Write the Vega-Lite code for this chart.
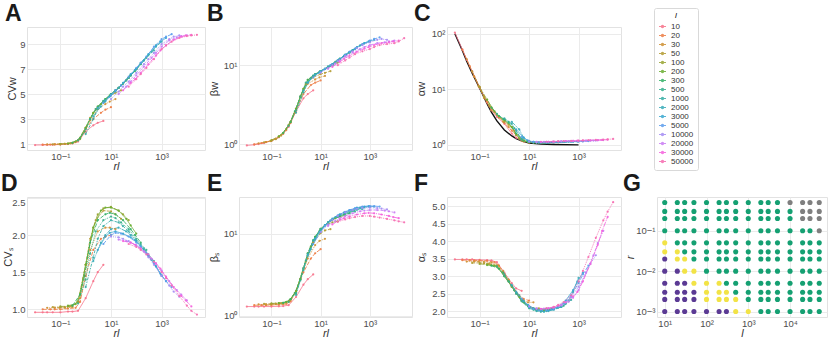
{
"$schema":"https://vega.github.io/schema/vega-lite/v6.json",
"padding":{"left":0,"top":2,"right":0,"bottom":0},
"config":{
 "font":"Liberation Sans",
 "view":{"stroke":"#e2e2e2","strokeWidth":1},
 "axis":{"domain":false,"ticks":false,"grid":true,"gridColor":"#ebebeb","gridWidth":1,"labelColor":"#4d4d4d","labelFontSize":9.5,"labelPadding":2,"titleColor":"#333333","titleFontSize":11,"titleFontWeight":"normal","titlePadding":2},
 "axisX":{"titleFontStyle":"italic","titleFontSize":11,"titlePadding":0,"labelPadding":1},
 "title":{"fontSize":23,"fontWeight":"bold","anchor":"start","frame":"bounds","offset":1,"color":"#1a1a1a","dx":-1},
 "range":{"category":["#f77189","#ed7d45","#ce9032","#b39b31","#97a431","#6aad31","#32b166","#34af8c","#36ada4","#37abb8","#39a7d0","#5c9ded","#a48cf4","#c97cf4","#f561dd","#f66bb0"]}
},
"datasets":{
"curves":[
{"l":10,"rl":0.01,"cvw":0.92,"bw":0.96,"aw":105,"cvs":0.96,"bs":1.3,"as":3.48},
{"l":10,"rl":0.02,"cvw":0.93,"bw":0.98,"aw":52,"cvs":0.96,"bs":1.3,"as":3.48},
{"l":10,"rl":0.03,"cvw":0.93,"bw":1.0,"aw":34,"cvs":0.96,"bs":1.3,"as":3.48},
{"l":10,"rl":0.05,"cvw":0.94,"bw":1.03,"aw":21,"cvs":0.96,"bs":1.3,"as":3.48},
{"l":10,"rl":0.1,"cvw":0.96,"bw":1.1,"aw":10.8,"cvs":0.96,"bs":1.3,"as":3.47},
{"l":10,"rl":0.2,"cvw":1.0,"bw":1.22,"aw":5.8,"cvs":0.97,"bs":1.31,"as":3.46},
{"l":10,"rl":0.3,"cvw":1.05,"bw":1.35,"aw":4.2,"cvs":0.97,"bs":1.32,"as":3.45},
{"l":10,"rl":0.5,"cvw":1.2,"bw":1.65,"aw":3.2,"cvs":0.98,"bs":1.35,"as":3.4},
{"l":10,"rl":1,"cvw":2.0,"bw":2.6,"aw":2.4,"cvs":1.15,"bs":1.7,"as":3.1},
{"l":10,"rl":2,"cvw":2.5,"bw":3.8,"aw":1.6,"cvs":1.38,"bs":2.4,"as":2.8},
{"l":10,"rl":3,"cvw":2.7,"bw":4.3,"aw":1.35,"cvs":1.5,"bs":2.8,"as":2.65},
{"l":10,"rl":5,"cvw":2.85,"bw":4.8,"aw":1.18,"cvs":1.6,"bs":3.2,"as":2.58},
{"l":20,"rl":0.02,"cvw":0.95,"bw":0.99,"aw":52,"cvs":1.0,"bs":1.35,"as":3.46},
{"l":20,"rl":0.04,"cvw":0.96,"bw":1.03,"aw":26,"cvs":1.0,"bs":1.35,"as":3.46},
{"l":20,"rl":0.06,"cvw":0.97,"bw":1.06,"aw":17,"cvs":1.0,"bs":1.35,"as":3.45},
{"l":20,"rl":0.1,"cvw":0.98,"bw":1.1,"aw":10.8,"cvs":1.0,"bs":1.36,"as":3.45},
{"l":20,"rl":0.2,"cvw":1.02,"bw":1.22,"aw":5.9,"cvs":1.01,"bs":1.37,"as":3.44},
{"l":20,"rl":0.4,"cvw":1.15,"bw":1.5,"aw":3.9,"cvs":1.02,"bs":1.4,"as":3.4},
{"l":20,"rl":0.6,"cvw":1.4,"bw":1.85,"aw":3.2,"cvs":1.1,"bs":1.5,"as":3.3},
{"l":20,"rl":1,"cvw":2.2,"bw":2.7,"aw":2.5,"cvs":1.45,"bs":2.0,"as":3.05},
{"l":20,"rl":2,"cvw":3.0,"bw":4.3,"aw":1.8,"cvs":1.8,"bs":3.4,"as":2.7},
{"l":20,"rl":4,"cvw":3.5,"bw":5.6,"aw":1.3,"cvs":1.95,"bs":5.0,"as":2.45},
{"l":20,"rl":6,"cvw":3.75,"bw":6.0,"aw":1.15,"cvs":1.98,"bs":5.8,"as":2.35},
{"l":20,"rl":10,"cvw":3.95,"bw":6.4,"aw":1.1,"cvs":2.0,"bs":6.5,"as":2.3},
{"l":30,"rl":0.03,"cvw":0.97,"bw":1.02,"aw":35,"cvs":1.02,"bs":1.38,"as":3.42},
{"l":30,"rl":0.06,"cvw":0.98,"bw":1.06,"aw":17,"cvs":1.02,"bs":1.38,"as":3.42},
{"l":30,"rl":0.09,"cvw":0.99,"bw":1.09,"aw":11.5,"cvs":1.02,"bs":1.38,"as":3.42},
{"l":30,"rl":0.15,"cvw":1.01,"bw":1.16,"aw":7,"cvs":1.02,"bs":1.39,"as":3.41},
{"l":30,"rl":0.3,"cvw":1.07,"bw":1.35,"aw":4.2,"cvs":1.03,"bs":1.4,"as":3.39},
{"l":30,"rl":0.6,"cvw":1.45,"bw":1.9,"aw":3.1,"cvs":1.15,"bs":1.55,"as":3.3},
{"l":30,"rl":0.9,"cvw":2.0,"bw":2.5,"aw":2.6,"cvs":1.45,"bs":1.9,"as":3.15},
{"l":30,"rl":1.5,"cvw":2.9,"bw":4.0,"aw":2.1,"cvs":1.8,"bs":2.8,"as":2.9},
{"l":30,"rl":3,"cvw":3.8,"bw":5.8,"aw":1.5,"cvs":2.05,"bs":5.0,"as":2.55},
{"l":30,"rl":6,"cvw":4.2,"bw":6.6,"aw":1.2,"cvs":2.1,"bs":7.3,"as":2.3},
{"l":30,"rl":9,"cvw":4.4,"bw":7.0,"aw":1.12,"cvs":2.1,"bs":8.2,"as":2.25},
{"l":30,"rl":15,"cvw":4.6,"bw":7.3,"aw":1.1,"cvs":2.08,"bs":8.7,"as":2.25},
{"l":50,"rl":0.05,"cvw":0.98,"bw":1.05,"aw":21,"cvs":1.03,"bs":1.4,"as":3.38},
{"l":50,"rl":0.1,"cvw":1.0,"bw":1.1,"aw":11,"cvs":1.03,"bs":1.4,"as":3.38},
{"l":50,"rl":0.15,"cvw":1.02,"bw":1.15,"aw":7.3,"cvs":1.03,"bs":1.41,"as":3.37},
{"l":50,"rl":0.25,"cvw":1.06,"bw":1.28,"aw":5.0,"cvs":1.04,"bs":1.42,"as":3.36},
{"l":50,"rl":0.5,"cvw":1.3,"bw":1.7,"aw":3.5,"cvs":1.1,"bs":1.5,"as":3.3},
{"l":50,"rl":1,"cvw":2.3,"bw":2.8,"aw":2.6,"cvs":1.6,"bs":2.0,"as":3.05},
{"l":50,"rl":1.5,"cvw":3.1,"bw":4.0,"aw":2.3,"cvs":1.95,"bs":2.8,"as":2.85},
{"l":50,"rl":2.5,"cvw":3.8,"bw":5.8,"aw":1.8,"cvs":2.2,"bs":4.6,"as":2.6},
{"l":50,"rl":5,"cvw":4.4,"bw":7.0,"aw":1.25,"cvs":2.33,"bs":7.8,"as":2.3},
{"l":50,"rl":10,"cvw":4.9,"bw":7.7,"aw":1.12,"cvs":2.32,"bs":10.2,"as":2.12},
{"l":50,"rl":15,"cvw":5.1,"bw":8.0,"aw":1.1,"cvs":2.28,"bs":11.0,"as":2.08},
{"l":50,"rl":25,"cvw":5.3,"bw":8.4,"aw":1.1,"cvs":2.22,"bs":11.4,"as":2.08},
{"l":100,"rl":0.1,"cvw":1.0,"bw":1.12,"aw":11,"cvs":1.04,"bs":1.42,"as":3.35},
{"l":100,"rl":0.2,"cvw":1.04,"bw":1.25,"aw":6.5,"cvs":1.04,"bs":1.43,"as":3.34},
{"l":100,"rl":0.3,"cvw":1.1,"bw":1.38,"aw":4.7,"cvs":1.05,"bs":1.44,"as":3.32},
{"l":100,"rl":0.5,"cvw":1.3,"bw":1.75,"aw":3.5,"cvs":1.1,"bs":1.5,"as":3.28},
{"l":100,"rl":1,"cvw":2.3,"bw":2.8,"aw":2.8,"cvs":1.6,"bs":2.0,"as":3.0},
{"l":100,"rl":2,"cvw":3.5,"bw":5.0,"aw":2.1,"cvs":2.1,"bs":3.8,"as":2.7},
{"l":100,"rl":3,"cvw":4.0,"bw":6.5,"aw":1.5,"cvs":2.28,"bs":5.8,"as":2.5},
{"l":100,"rl":5,"cvw":4.4,"bw":7.3,"aw":1.2,"cvs":2.36,"bs":8.3,"as":2.3},
{"l":100,"rl":10,"cvw":5.0,"bw":8.4,"aw":1.12,"cvs":2.38,"bs":11.3,"as":2.12},
{"l":100,"rl":20,"cvw":5.5,"bw":9.4,"aw":1.1,"cvs":2.33,"bs":13.2,"as":2.05},
{"l":100,"rl":30,"cvw":5.85,"bw":10.0,"aw":1.1,"cvs":2.28,"bs":13.8,"as":2.05},
{"l":100,"rl":50,"cvw":6.3,"bw":10.8,"aw":1.1,"cvs":2.2,"bs":14.2,"as":2.07},
{"l":200,"rl":0.2,"cvw":1.04,"bw":1.25,"aw":6.5,"cvs":1.05,"bs":1.43,"as":3.32},
{"l":200,"rl":0.4,"cvw":1.2,"bw":1.55,"aw":4.0,"cvs":1.07,"bs":1.47,"as":3.3},
{"l":200,"rl":0.6,"cvw":1.45,"bw":1.9,"aw":3.3,"cvs":1.2,"bs":1.6,"as":3.22},
{"l":200,"rl":1,"cvw":2.3,"bw":2.8,"aw":2.8,"cvs":1.6,"bs":2.0,"as":3.0},
{"l":200,"rl":2,"cvw":3.5,"bw":5.0,"aw":2.1,"cvs":2.1,"bs":3.8,"as":2.7},
{"l":200,"rl":4,"cvw":4.2,"bw":6.9,"aw":1.3,"cvs":2.33,"bs":7.0,"as":2.4},
{"l":200,"rl":6,"cvw":4.6,"bw":7.7,"aw":1.18,"cvs":2.37,"bs":9.2,"as":2.25},
{"l":200,"rl":10,"cvw":5.0,"bw":8.4,"aw":1.12,"cvs":2.37,"bs":11.5,"as":2.12},
{"l":200,"rl":20,"cvw":5.5,"bw":9.5,"aw":1.1,"cvs":2.33,"bs":13.8,"as":2.04},
{"l":200,"rl":40,"cvw":6.1,"bw":11.0,"aw":1.1,"cvs":2.22,"bs":15.5,"as":2.03},
{"l":200,"rl":60,"cvw":6.5,"bw":12.0,"aw":1.1,"cvs":2.13,"bs":16.2,"as":2.05},
{"l":200,"rl":100,"cvw":7.0,"bw":13.5,"aw":1.12,"cvs":2.02,"bs":16.8,"as":2.08},
{"l":300,"rl":0.3,"cvw":1.1,"bw":1.38,"aw":4.7,"cvs":1.05,"bs":1.44,"as":3.3},
{"l":300,"rl":0.6,"cvw":1.45,"bw":1.9,"aw":3.3,"cvs":1.2,"bs":1.6,"as":3.22},
{"l":300,"rl":0.9,"cvw":2.0,"bw":2.6,"aw":2.9,"cvs":1.45,"bs":1.9,"as":3.1},
{"l":300,"rl":1.5,"cvw":3.0,"bw":4.0,"aw":2.5,"cvs":1.9,"bs":2.8,"as":2.85},
{"l":300,"rl":3,"cvw":4.0,"bw":6.5,"aw":1.6,"cvs":2.2,"bs":5.8,"as":2.52},
{"l":300,"rl":6,"cvw":4.6,"bw":7.7,"aw":1.2,"cvs":2.28,"bs":9.2,"as":2.25},
{"l":300,"rl":9,"cvw":4.9,"bw":8.2,"aw":1.13,"cvs":2.3,"bs":10.8,"as":2.15},
{"l":300,"rl":15,"cvw":5.3,"bw":9.0,"aw":1.1,"cvs":2.28,"bs":12.7,"as":2.08},
{"l":300,"rl":30,"cvw":5.85,"bw":10.0,"aw":1.1,"cvs":2.2,"bs":14.8,"as":2.03},
{"l":300,"rl":60,"cvw":6.5,"bw":12.0,"aw":1.1,"cvs":2.08,"bs":16.5,"as":2.05},
{"l":300,"rl":90,"cvw":6.85,"bw":13.0,"aw":1.12,"cvs":2.0,"bs":17.2,"as":2.08},
{"l":300,"rl":150,"cvw":7.4,"bw":14.5,"aw":1.12,"cvs":1.9,"bs":17.8,"as":2.12},
{"l":500,"rl":0.5,"cvw":1.3,"bw":1.7,"aw":3.6,"cvs":1.08,"bs":1.48,"as":3.28},
{"l":500,"rl":1,"cvw":2.2,"bw":2.7,"aw":2.9,"cvs":1.4,"bs":1.9,"as":3.0},
{"l":500,"rl":1.5,"cvw":3.0,"bw":4.0,"aw":2.6,"cvs":1.75,"bs":2.7,"as":2.85},
{"l":500,"rl":2.5,"cvw":3.8,"bw":6.0,"aw":2.0,"cvs":2.05,"bs":4.7,"as":2.6},
{"l":500,"rl":5,"cvw":4.45,"bw":7.4,"aw":1.3,"cvs":2.2,"bs":8.3,"as":2.3},
{"l":500,"rl":10,"cvw":5.0,"bw":8.4,"aw":1.14,"cvs":2.25,"bs":11.5,"as":2.1},
{"l":500,"rl":15,"cvw":5.3,"bw":9.0,"aw":1.1,"cvs":2.23,"bs":12.8,"as":2.04},
{"l":500,"rl":25,"cvw":5.7,"bw":9.9,"aw":1.1,"cvs":2.17,"bs":14.5,"as":2.02},
{"l":500,"rl":50,"cvw":6.3,"bw":11.5,"aw":1.1,"cvs":2.08,"bs":16.2,"as":2.03},
{"l":500,"rl":100,"cvw":7.0,"bw":13.5,"aw":1.12,"cvs":1.95,"bs":17.5,"as":2.07},
{"l":500,"rl":150,"cvw":7.4,"bw":14.5,"aw":1.12,"cvs":1.88,"bs":18.2,"as":2.1},
{"l":500,"rl":250,"cvw":7.9,"bw":16.0,"aw":1.13,"cvs":1.8,"bs":18.8,"as":2.15},
{"l":1000,"rl":1,"cvw":1.8,"bw":2.5,"aw":3.0,"cvs":1.3,"bs":1.8,"as":3.05},
{"l":1000,"rl":2,"cvw":3.0,"bw":4.5,"aw":2.4,"cvs":1.7,"bs":3.6,"as":2.72},
{"l":1000,"rl":3,"cvw":3.8,"bw":6.0,"aw":1.8,"cvs":1.95,"bs":5.7,"as":2.5},
{"l":1000,"rl":5,"cvw":4.4,"bw":7.3,"aw":1.25,"cvs":2.12,"bs":8.3,"as":2.28},
{"l":1000,"rl":10,"cvw":5.0,"bw":8.4,"aw":1.13,"cvs":2.2,"bs":11.3,"as":2.08},
{"l":1000,"rl":20,"cvw":5.5,"bw":9.6,"aw":1.1,"cvs":2.17,"bs":13.8,"as":2.0},
{"l":1000,"rl":30,"cvw":5.85,"bw":10.3,"aw":1.1,"cvs":2.12,"bs":15.0,"as":1.98},
{"l":1000,"rl":50,"cvw":6.3,"bw":11.5,"aw":1.1,"cvs":2.05,"bs":16.2,"as":2.0},
{"l":1000,"rl":100,"cvw":7.0,"bw":13.5,"aw":1.12,"cvs":1.93,"bs":17.8,"as":2.05},
{"l":1000,"rl":200,"cvw":7.7,"bw":15.5,"aw":1.13,"cvs":1.82,"bs":19.0,"as":2.12},
{"l":1000,"rl":300,"cvw":8.1,"bw":16.8,"aw":1.13,"cvs":1.74,"bs":19.6,"as":2.2},
{"l":1000,"rl":500,"cvw":8.5,"bw":18.3,"aw":1.14,"cvs":1.65,"bs":20.0,"as":2.32},
{"l":2000,"rl":2,"cvw":3.2,"bw":4.8,"aw":2.6,"cvs":1.65,"bs":3.8,"as":2.75},
{"l":2000,"rl":4,"cvw":4.0,"bw":6.8,"aw":1.9,"cvs":1.9,"bs":6.5,"as":2.45},
{"l":2000,"rl":6,"cvw":4.4,"bw":7.6,"aw":1.35,"cvs":2.0,"bs":8.5,"as":2.3},
{"l":2000,"rl":10,"cvw":4.9,"bw":8.4,"aw":1.15,"cvs":2.08,"bs":11.0,"as":2.12},
{"l":2000,"rl":20,"cvw":5.5,"bw":9.6,"aw":1.1,"cvs":2.1,"bs":13.8,"as":2.02},
{"l":2000,"rl":40,"cvw":6.1,"bw":11.0,"aw":1.1,"cvs":2.05,"bs":16.0,"as":1.98},
{"l":2000,"rl":60,"cvw":6.5,"bw":12.0,"aw":1.1,"cvs":2.0,"bs":17.0,"as":2.0},
{"l":2000,"rl":100,"cvw":7.0,"bw":13.5,"aw":1.12,"cvs":1.92,"bs":18.2,"as":2.04},
{"l":2000,"rl":200,"cvw":7.7,"bw":15.5,"aw":1.13,"cvs":1.8,"bs":19.5,"as":2.12},
{"l":2000,"rl":400,"cvw":8.4,"bw":17.8,"aw":1.14,"cvs":1.67,"bs":20.5,"as":2.3},
{"l":2000,"rl":600,"cvw":8.8,"bw":19.0,"aw":1.14,"cvs":1.58,"bs":21.0,"as":2.55},
{"l":2000,"rl":1000,"cvw":9.2,"bw":20.0,"aw":1.15,"cvs":1.45,"bs":21.3,"as":2.95},
{"l":3000,"rl":3,"cvw":3.9,"bw":6.0,"aw":1.9,"cvs":1.8,"bs":5.5,"as":2.55},
{"l":3000,"rl":6,"cvw":4.5,"bw":7.6,"aw":1.35,"cvs":1.98,"bs":8.8,"as":2.28},
{"l":3000,"rl":9,"cvw":4.8,"bw":8.1,"aw":1.2,"cvs":2.03,"bs":10.5,"as":2.18},
{"l":3000,"rl":15,"cvw":5.2,"bw":9.0,"aw":1.13,"cvs":2.05,"bs":12.8,"as":2.08},
{"l":3000,"rl":30,"cvw":5.9,"bw":10.3,"aw":1.1,"cvs":2.02,"bs":15.3,"as":2.02},
{"l":3000,"rl":60,"cvw":6.6,"bw":12.0,"aw":1.1,"cvs":1.97,"bs":17.3,"as":2.02},
{"l":3000,"rl":90,"cvw":6.95,"bw":13.2,"aw":1.12,"cvs":1.93,"bs":18.3,"as":2.05},
{"l":3000,"rl":150,"cvw":7.5,"bw":14.8,"aw":1.13,"cvs":1.85,"bs":19.5,"as":2.12},
{"l":3000,"rl":300,"cvw":8.2,"bw":17.0,"aw":1.14,"cvs":1.72,"bs":20.8,"as":2.3},
{"l":3000,"rl":600,"cvw":8.9,"bw":19.0,"aw":1.15,"cvs":1.58,"bs":21.5,"as":2.6},
{"l":3000,"rl":900,"cvw":9.2,"bw":20.0,"aw":1.15,"cvs":1.48,"bs":21.7,"as":2.85},
{"l":3000,"rl":1500,"cvw":9.5,"bw":21.0,"aw":1.16,"cvs":1.38,"bs":21.5,"as":3.1},
{"l":5000,"rl":5,"cvw":4.3,"bw":7.0,"aw":1.4,"cvs":1.88,"bs":7.5,"as":2.35},
{"l":5000,"rl":10,"cvw":4.9,"bw":8.2,"aw":1.18,"cvs":2.0,"bs":10.5,"as":2.12},
{"l":5000,"rl":15,"cvw":5.3,"bw":9.0,"aw":1.13,"cvs":2.03,"bs":12.5,"as":2.06},
{"l":5000,"rl":25,"cvw":5.7,"bw":10.0,"aw":1.11,"cvs":2.02,"bs":14.5,"as":2.02},
{"l":5000,"rl":50,"cvw":6.4,"bw":11.5,"aw":1.1,"cvs":1.98,"bs":16.8,"as":2.02},
{"l":5000,"rl":100,"cvw":7.1,"bw":13.5,"aw":1.12,"cvs":1.9,"bs":18.5,"as":2.06},
{"l":5000,"rl":150,"cvw":7.5,"bw":14.8,"aw":1.13,"cvs":1.84,"bs":19.5,"as":2.12},
{"l":5000,"rl":250,"cvw":8.0,"bw":16.2,"aw":1.14,"cvs":1.76,"bs":20.5,"as":2.22},
{"l":5000,"rl":500,"cvw":8.8,"bw":18.5,"aw":1.15,"cvs":1.62,"bs":21.5,"as":2.45},
{"l":5000,"rl":1000,"cvw":9.4,"bw":20.5,"aw":1.16,"cvs":1.46,"bs":21.8,"as":2.8},
{"l":5000,"rl":1500,"cvw":9.6,"bw":21.5,"aw":1.16,"cvs":1.38,"bs":21.8,"as":3.05},
{"l":5000,"rl":2500,"cvw":9.8,"bw":22.5,"aw":1.17,"cvs":1.3,"bs":21.5,"as":3.3},
{"l":10000,"rl":10,"cvw":4.6,"bw":8.0,"aw":1.15,"cvs":1.98,"bs":10.5,"as":2.14},
{"l":10000,"rl":20,"cvw":5.2,"bw":9.2,"aw":1.12,"cvs":1.97,"bs":13.0,"as":2.06},
{"l":10000,"rl":30,"cvw":5.6,"bw":10.0,"aw":1.12,"cvs":1.95,"bs":14.8,"as":2.05},
{"l":10000,"rl":50,"cvw":6.0,"bw":11.2,"aw":1.13,"cvs":1.92,"bs":16.5,"as":2.06},
{"l":10000,"rl":100,"cvw":6.7,"bw":13.0,"aw":1.14,"cvs":1.86,"bs":18.2,"as":2.1},
{"l":10000,"rl":200,"cvw":7.4,"bw":15.0,"aw":1.15,"cvs":1.78,"bs":19.5,"as":2.17},
{"l":10000,"rl":300,"cvw":7.8,"bw":16.5,"aw":1.16,"cvs":1.7,"bs":20.2,"as":2.25},
{"l":10000,"rl":500,"cvw":8.3,"bw":18.0,"aw":1.16,"cvs":1.6,"bs":20.6,"as":2.4},
{"l":10000,"rl":1000,"cvw":9.0,"bw":19.5,"aw":1.17,"cvs":1.45,"bs":20.8,"as":2.7},
{"l":10000,"rl":2000,"cvw":9.4,"bw":21.0,"aw":1.18,"cvs":1.32,"bs":20.6,"as":3.1},
{"l":10000,"rl":3000,"cvw":9.6,"bw":21.5,"aw":1.19,"cvs":1.24,"bs":20.3,"as":3.35},
{"l":10000,"rl":5000,"cvw":9.7,"bw":21.0,"aw":1.2,"cvs":1.17,"bs":19.8,"as":3.6},
{"l":20000,"rl":20,"cvw":5.0,"bw":9.0,"aw":1.13,"cvs":1.94,"bs":12.5,"as":2.08},
{"l":20000,"rl":40,"cvw":5.6,"bw":10.5,"aw":1.13,"cvs":1.92,"bs":14.5,"as":2.07},
{"l":20000,"rl":60,"cvw":6.0,"bw":11.5,"aw":1.14,"cvs":1.9,"bs":15.5,"as":2.08},
{"l":20000,"rl":100,"cvw":6.5,"bw":12.8,"aw":1.15,"cvs":1.86,"bs":16.5,"as":2.1},
{"l":20000,"rl":200,"cvw":7.2,"bw":14.5,"aw":1.16,"cvs":1.78,"bs":17.8,"as":2.16},
{"l":20000,"rl":400,"cvw":7.9,"bw":16.0,"aw":1.17,"cvs":1.68,"bs":18.8,"as":2.27},
{"l":20000,"rl":600,"cvw":8.3,"bw":17.0,"aw":1.18,"cvs":1.62,"bs":19.2,"as":2.38},
{"l":20000,"rl":1000,"cvw":8.8,"bw":18.0,"aw":1.18,"cvs":1.52,"bs":19.5,"as":2.6},
{"l":20000,"rl":2000,"cvw":9.3,"bw":19.0,"aw":1.19,"cvs":1.38,"bs":19.5,"as":3.1},
{"l":20000,"rl":4000,"cvw":9.55,"bw":19.5,"aw":1.2,"cvs":1.26,"bs":19.2,"as":3.6},
{"l":20000,"rl":6000,"cvw":9.65,"bw":20.0,"aw":1.21,"cvs":1.2,"bs":18.8,"as":3.95},
{"l":20000,"rl":10000,"cvw":9.7,"bw":20.5,"aw":1.22,"cvs":1.12,"bs":18.2,"as":4.3},
{"l":30000,"rl":30,"cvw":5.3,"bw":9.5,"aw":1.13,"cvs":1.92,"bs":13.0,"as":2.06},
{"l":30000,"rl":60,"cvw":5.9,"bw":11.0,"aw":1.14,"cvs":1.9,"bs":14.8,"as":2.08},
{"l":30000,"rl":90,"cvw":6.2,"bw":12.0,"aw":1.15,"cvs":1.87,"bs":15.5,"as":2.1},
{"l":30000,"rl":150,"cvw":6.7,"bw":13.2,"aw":1.16,"cvs":1.82,"bs":16.3,"as":2.15},
{"l":30000,"rl":300,"cvw":7.4,"bw":14.8,"aw":1.17,"cvs":1.74,"bs":17.2,"as":2.25},
{"l":30000,"rl":600,"cvw":8.1,"bw":16.2,"aw":1.18,"cvs":1.62,"bs":17.8,"as":2.42},
{"l":30000,"rl":900,"cvw":8.5,"bw":17.0,"aw":1.19,"cvs":1.55,"bs":18.0,"as":2.55},
{"l":30000,"rl":1500,"cvw":8.9,"bw":18.0,"aw":1.2,"cvs":1.44,"bs":17.8,"as":2.85},
{"l":30000,"rl":3000,"cvw":9.35,"bw":19.0,"aw":1.21,"cvs":1.3,"bs":17.2,"as":3.35},
{"l":30000,"rl":6000,"cvw":9.6,"bw":19.5,"aw":1.22,"cvs":1.18,"bs":16.5,"as":3.9},
{"l":30000,"rl":9000,"cvw":9.7,"bw":20.0,"aw":1.23,"cvs":1.12,"bs":16.0,"as":4.3},
{"l":30000,"rl":15000,"cvw":9.75,"bw":20.5,"aw":1.24,"cvs":1.04,"bs":15.5,"as":4.7},
{"l":50000,"rl":50,"cvw":5.6,"bw":10.0,"aw":1.14,"cvs":1.88,"bs":14.0,"as":2.08},
{"l":50000,"rl":100,"cvw":6.2,"bw":11.5,"aw":1.15,"cvs":1.84,"bs":15.0,"as":2.12},
{"l":50000,"rl":150,"cvw":6.6,"bw":12.5,"aw":1.16,"cvs":1.8,"bs":15.5,"as":2.18},
{"l":50000,"rl":250,"cvw":7.1,"bw":13.8,"aw":1.17,"cvs":1.74,"bs":16.0,"as":2.26},
{"l":50000,"rl":500,"cvw":7.8,"bw":15.0,"aw":1.18,"cvs":1.64,"bs":16.5,"as":2.45},
{"l":50000,"rl":1000,"cvw":8.6,"bw":16.0,"aw":1.2,"cvs":1.5,"bs":16.5,"as":2.85},
{"l":50000,"rl":1500,"cvw":8.9,"bw":17.0,"aw":1.21,"cvs":1.42,"bs":16.2,"as":3.15},
{"l":50000,"rl":2500,"cvw":9.2,"bw":18.0,"aw":1.22,"cvs":1.32,"bs":15.8,"as":3.55},
{"l":50000,"rl":5000,"cvw":9.5,"bw":18.5,"aw":1.23,"cvs":1.18,"bs":15.2,"as":4.1},
{"l":50000,"rl":10000,"cvw":9.65,"bw":19.0,"aw":1.25,"cvs":1.05,"bs":14.6,"as":4.6},
{"l":50000,"rl":15000,"cvw":9.7,"bw":20.0,"aw":1.26,"cvs":0.98,"bs":14.2,"as":4.85},
{"l":50000,"rl":25000,"cvw":9.75,"bw":22.0,"aw":1.28,"cvs":0.93,"bs":13.8,"as":5.12}
],
"theory":[
{"rl":0.01,"aw":100},{"rl":0.02,"aw":50},{"rl":0.03,"aw":32},{"rl":0.05,"aw":19.5},{"rl":0.1,"aw":10.5},{"rl":0.2,"aw":5.5},{"rl":0.3,"aw":3.9},{"rl":0.5,"aw":2.7},{"rl":1,"aw":1.85},{"rl":2,"aw":1.45},{"rl":3,"aw":1.3},{"rl":5,"aw":1.18},{"rl":10,"aw":1.08},{"rl":30,"aw":1.04},{"rl":100,"aw":1.02},{"rl":1000,"aw":1.0}
],
"grid":[
{"l":10,"r":0.5,"c":"g"},{"l":20,"r":0.5,"c":"g"},{"l":30,"r":0.5,"c":"g"},{"l":50,"r":0.5,"c":"g"},{"l":100,"r":0.5,"c":"g"},{"l":200,"r":0.5,"c":"g"},{"l":300,"r":0.5,"c":"g"},{"l":500,"r":0.5,"c":"g"},{"l":1000,"r":0.5,"c":"g"},{"l":2000,"r":0.5,"c":"g"},{"l":3000,"r":0.5,"c":"g"},{"l":5000,"r":0.5,"c":"g"},{"l":10000,"r":0.5,"c":"k"},{"l":20000,"r":0.5,"c":"k"},{"l":30000,"r":0.5,"c":"k"},{"l":50000,"r":0.5,"c":"k"},
{"l":10,"r":0.3,"c":"g"},{"l":20,"r":0.3,"c":"g"},{"l":30,"r":0.3,"c":"g"},{"l":50,"r":0.3,"c":"g"},{"l":100,"r":0.3,"c":"g"},{"l":200,"r":0.3,"c":"g"},{"l":300,"r":0.3,"c":"g"},{"l":500,"r":0.3,"c":"g"},{"l":1000,"r":0.3,"c":"g"},{"l":2000,"r":0.3,"c":"g"},{"l":3000,"r":0.3,"c":"g"},{"l":5000,"r":0.3,"c":"g"},{"l":10000,"r":0.3,"c":"g"},{"l":20000,"r":0.3,"c":"k"},{"l":30000,"r":0.3,"c":"k"},{"l":50000,"r":0.3,"c":"k"},
{"l":10,"r":0.2,"c":"g"},{"l":20,"r":0.2,"c":"g"},{"l":30,"r":0.2,"c":"g"},{"l":50,"r":0.2,"c":"g"},{"l":100,"r":0.2,"c":"g"},{"l":200,"r":0.2,"c":"g"},{"l":300,"r":0.2,"c":"g"},{"l":500,"r":0.2,"c":"g"},{"l":1000,"r":0.2,"c":"g"},{"l":2000,"r":0.2,"c":"g"},{"l":3000,"r":0.2,"c":"g"},{"l":5000,"r":0.2,"c":"g"},{"l":10000,"r":0.2,"c":"g"},{"l":20000,"r":0.2,"c":"k"},{"l":30000,"r":0.2,"c":"k"},{"l":50000,"r":0.2,"c":"k"},
{"l":10,"r":0.1,"c":"g"},{"l":20,"r":0.1,"c":"g"},{"l":30,"r":0.1,"c":"g"},{"l":50,"r":0.1,"c":"g"},{"l":100,"r":0.1,"c":"g"},{"l":200,"r":0.1,"c":"g"},{"l":300,"r":0.1,"c":"g"},{"l":500,"r":0.1,"c":"g"},{"l":1000,"r":0.1,"c":"g"},{"l":2000,"r":0.1,"c":"g"},{"l":3000,"r":0.1,"c":"g"},{"l":5000,"r":0.1,"c":"g"},{"l":10000,"r":0.1,"c":"g"},{"l":20000,"r":0.1,"c":"g"},{"l":30000,"r":0.1,"c":"g"},{"l":50000,"r":0.1,"c":"k"},
{"l":10,"r":0.05,"c":"y"},{"l":20,"r":0.05,"c":"g"},{"l":30,"r":0.05,"c":"g"},{"l":50,"r":0.05,"c":"g"},{"l":100,"r":0.05,"c":"g"},{"l":200,"r":0.05,"c":"g"},{"l":300,"r":0.05,"c":"g"},{"l":500,"r":0.05,"c":"g"},{"l":1000,"r":0.05,"c":"g"},{"l":2000,"r":0.05,"c":"g"},{"l":3000,"r":0.05,"c":"g"},{"l":5000,"r":0.05,"c":"g"},{"l":10000,"r":0.05,"c":"g"},{"l":20000,"r":0.05,"c":"g"},{"l":30000,"r":0.05,"c":"g"},{"l":50000,"r":0.05,"c":"g"},
{"l":10,"r":0.03,"c":"y"},{"l":20,"r":0.03,"c":"y"},{"l":30,"r":0.03,"c":"g"},{"l":50,"r":0.03,"c":"g"},{"l":100,"r":0.03,"c":"g"},{"l":200,"r":0.03,"c":"g"},{"l":300,"r":0.03,"c":"g"},{"l":500,"r":0.03,"c":"g"},{"l":1000,"r":0.03,"c":"g"},{"l":2000,"r":0.03,"c":"g"},{"l":3000,"r":0.03,"c":"g"},{"l":5000,"r":0.03,"c":"g"},{"l":10000,"r":0.03,"c":"g"},{"l":20000,"r":0.03,"c":"g"},{"l":30000,"r":0.03,"c":"g"},{"l":50000,"r":0.03,"c":"g"},
{"l":10,"r":0.02,"c":"p"},{"l":20,"r":0.02,"c":"y"},{"l":30,"r":0.02,"c":"y"},{"l":50,"r":0.02,"c":"g"},{"l":100,"r":0.02,"c":"g"},{"l":200,"r":0.02,"c":"g"},{"l":300,"r":0.02,"c":"g"},{"l":500,"r":0.02,"c":"g"},{"l":1000,"r":0.02,"c":"g"},{"l":2000,"r":0.02,"c":"g"},{"l":3000,"r":0.02,"c":"g"},{"l":5000,"r":0.02,"c":"g"},{"l":10000,"r":0.02,"c":"g"},{"l":20000,"r":0.02,"c":"g"},{"l":30000,"r":0.02,"c":"g"},{"l":50000,"r":0.02,"c":"g"},
{"l":10,"r":0.01,"c":"p"},{"l":20,"r":0.01,"c":"p"},{"l":30,"r":0.01,"c":"y"},{"l":50,"r":0.01,"c":"y"},{"l":100,"r":0.01,"c":"g"},{"l":200,"r":0.01,"c":"g"},{"l":300,"r":0.01,"c":"g"},{"l":500,"r":0.01,"c":"g"},{"l":1000,"r":0.01,"c":"g"},{"l":2000,"r":0.01,"c":"g"},{"l":3000,"r":0.01,"c":"g"},{"l":5000,"r":0.01,"c":"g"},{"l":10000,"r":0.01,"c":"g"},{"l":20000,"r":0.01,"c":"g"},{"l":30000,"r":0.01,"c":"g"},{"l":50000,"r":0.01,"c":"g"},
{"l":10,"r":0.005,"c":"p"},{"l":20,"r":0.005,"c":"p"},{"l":30,"r":0.005,"c":"p"},{"l":50,"r":0.005,"c":"y"},{"l":100,"r":0.005,"c":"y"},{"l":200,"r":0.005,"c":"y"},{"l":300,"r":0.005,"c":"g"},{"l":500,"r":0.005,"c":"g"},{"l":1000,"r":0.005,"c":"g"},{"l":2000,"r":0.005,"c":"g"},{"l":3000,"r":0.005,"c":"g"},{"l":5000,"r":0.005,"c":"g"},{"l":10000,"r":0.005,"c":"g"},{"l":20000,"r":0.005,"c":"g"},{"l":30000,"r":0.005,"c":"g"},{"l":50000,"r":0.005,"c":"g"},
{"l":10,"r":0.003,"c":"p"},{"l":20,"r":0.003,"c":"p"},{"l":30,"r":0.003,"c":"p"},{"l":50,"r":0.003,"c":"p"},{"l":100,"r":0.003,"c":"y"},{"l":200,"r":0.003,"c":"y"},{"l":300,"r":0.003,"c":"y"},{"l":500,"r":0.003,"c":"g"},{"l":1000,"r":0.003,"c":"g"},{"l":2000,"r":0.003,"c":"g"},{"l":3000,"r":0.003,"c":"g"},{"l":5000,"r":0.003,"c":"g"},{"l":10000,"r":0.003,"c":"g"},{"l":20000,"r":0.003,"c":"g"},{"l":30000,"r":0.003,"c":"g"},{"l":50000,"r":0.003,"c":"g"},
{"l":10,"r":0.002,"c":"p"},{"l":20,"r":0.002,"c":"p"},{"l":30,"r":0.002,"c":"p"},{"l":50,"r":0.002,"c":"p"},{"l":100,"r":0.002,"c":"y"},{"l":200,"r":0.002,"c":"y"},{"l":300,"r":0.002,"c":"y"},{"l":500,"r":0.002,"c":"y"},{"l":1000,"r":0.002,"c":"g"},{"l":2000,"r":0.002,"c":"g"},{"l":3000,"r":0.002,"c":"g"},{"l":5000,"r":0.002,"c":"g"},{"l":10000,"r":0.002,"c":"g"},{"l":20000,"r":0.002,"c":"g"},{"l":30000,"r":0.002,"c":"g"},{"l":50000,"r":0.002,"c":"g"},
{"l":10,"r":0.001,"c":"p"},{"l":20,"r":0.001,"c":"p"},{"l":30,"r":0.001,"c":"p"},{"l":50,"r":0.001,"c":"p"},{"l":100,"r":0.001,"c":"p"},{"l":200,"r":0.001,"c":"p"},{"l":300,"r":0.001,"c":"p"},{"l":500,"r":0.001,"c":"y"},{"l":1000,"r":0.001,"c":"y"},{"l":2000,"r":0.001,"c":"g"},{"l":3000,"r":0.001,"c":"g"},{"l":5000,"r":0.001,"c":"g"},{"l":10000,"r":0.001,"c":"g"},{"l":20000,"r":0.001,"c":"g"},{"l":30000,"r":0.001,"c":"g"},{"l":50000,"r":0.001,"c":"g"}
]
},
"columns":4,
"align":{"row":"all","column":"none"},
"bounds":"full",
"spacing":{"row":0,"column":0},
"concat":[
 {"width":178,"height":123,"title":{"text":"A"},"data":{"name":"curves"},
  "encoding":{
   "x":{"field":"rl","type":"quantitative","scale":{"type":"log","domain":[0.0048,52000]},"axis":{"values":[0.1,10,1000],"labelExpr":"'10' + replace(replace(replace(replace(replace(replace(format(log(datum.value)/LN10,'.0f'),'-','⁻'),'0','⁰'),'1','¹'),'2','²'),'3','³'),'4','⁴')","title":"rl"}},
   "y":{"field":"cvw","type":"quantitative","scale":{"domain":[0.52,10.38],"nice":false,"zero":false},"axis":{"values":[1,3,5,7,9],"title":"CVw","minExtent":8,"maxExtent":8}},
   "color":{"field":"l","type":"nominal","title":"l","legend":{"orient":"none","legendX":627,"legendY":-19,"strokeColor":"#d9d9d9","fillColor":"white","padding":4,"cornerRadius":2,"titleFontSize":8,"titleFontStyle":"italic","titleFontWeight":"normal","titleAnchor":"middle","titlePadding":2,"labelFontSize":8,"labelColor":"#333333","rowPadding":0,"symbolType":"M-1,0L1,0M-0.3,0A0.3,0.3,0,1,1,0.3,0A0.3,0.3,0,1,1,-0.3,0","symbolSize":49,"symbolStrokeWidth":1.2,"labelOffset":4}}
  },
  "layer":[
   {"mark":{"type":"line","strokeWidth":1,"opacity":0.85},"encoding":{"strokeDash":{"field":"l","type":"nominal","legend":null,"scale":{"range":[[1,0],[4,1.5],[1,1],[3,1.25,1.5,1.25],[5,1,1,1],[1,0],[4,1.5],[1,1],[3,1.25,1.5,1.25],[5,1,1,1],[1,0],[4,1.5],[1,1],[3,1.25,1.5,1.25],[5,1,1,1],[1,1]]}}}},
   {"mark":{"type":"point","filled":true,"size":5,"opacity":0.9}}
  ]},
 {"width":173,"height":123,"title":{"text":"B"},"data":{"name":"curves"},
  "encoding":{
   "x":{"field":"rl","type":"quantitative","scale":{"type":"log","domain":[0.0048,52000]},"axis":{"values":[0.1,10,1000],"labelExpr":"'10' + replace(replace(replace(replace(replace(replace(format(log(datum.value)/LN10,'.0f'),'-','⁻'),'0','⁰'),'1','¹'),'2','²'),'3','³'),'4','⁴')","title":"rl"}},
   "y":{"field":"bw","type":"quantitative","scale":{"type":"log","domain":[0.84,30.5]},"axis":{"values":[1,10],"labelExpr":"'10' + replace(replace(replace(replace(replace(replace(format(log(datum.value)/LN10,'.0f'),'-','⁻'),'0','⁰'),'1','¹'),'2','²'),'3','³'),'4','⁴')","title":"βw","minExtent":18,"maxExtent":18}},
   "color":{"field":"l","type":"nominal","title":"l"}
  },
  "layer":[
   {"mark":{"type":"line","strokeWidth":1,"opacity":0.85},"encoding":{"strokeDash":{"field":"l","type":"nominal","legend":null}}},
   {"mark":{"type":"point","filled":true,"size":5,"opacity":0.9}}
  ]},
 {"width":174,"height":123,"title":{"text":"C"},
  "encoding":{
   "x":{"field":"rl","type":"quantitative","scale":{"type":"log","domain":[0.0048,52000]},"axis":{"values":[0.1,10,1000],"labelExpr":"'10' + replace(replace(replace(replace(replace(replace(format(log(datum.value)/LN10,'.0f'),'-','⁻'),'0','⁰'),'1','¹'),'2','²'),'3','³'),'4','⁴')","title":"rl"}},
   "y":{"field":"aw","type":"quantitative","scale":{"type":"log","domain":[0.81,132]},"axis":{"values":[1,10,100],"labelExpr":"'10' + replace(replace(replace(replace(replace(replace(format(log(datum.value)/LN10,'.0f'),'-','⁻'),'0','⁰'),'1','¹'),'2','²'),'3','³'),'4','⁴')","title":"αw","minExtent":19,"maxExtent":19}}
  },
  "layer":[
   {"data":{"name":"theory"},"mark":{"type":"line","color":"#111111","strokeWidth":1.4},"encoding":{}},
   {"data":{"name":"curves"},"mark":{"type":"line","strokeWidth":1,"opacity":0.85},"encoding":{"color":{"field":"l","type":"nominal","title":"l"},"strokeDash":{"field":"l","type":"nominal","legend":null}}},
   {"data":{"name":"curves"},"mark":{"type":"point","filled":true,"size":5,"opacity":0.9},"encoding":{"color":{"field":"l","type":"nominal","title":"l"}}}
  ]},
 {"width":150,"height":123,"data":{"values":[{"k":1}]},"mark":{"type":"point","opacity":0},"view":{"stroke":null}},
 {"width":178,"height":120,"title":{"text":"D"},"data":{"name":"curves"},
  "encoding":{
   "x":{"field":"rl","type":"quantitative","scale":{"type":"log","domain":[0.0048,52000]},"axis":{"values":[0.1,10,1000],"labelExpr":"'10' + replace(replace(replace(replace(replace(replace(format(log(datum.value)/LN10,'.0f'),'-','⁻'),'0','⁰'),'1','¹'),'2','²'),'3','³'),'4','⁴')","title":"rl"}},
   "y":{"field":"cvs","type":"quantitative","scale":{"domain":[0.897,2.513],"nice":false,"zero":false},"axis":{"values":[1,1.5,2,2.5],"format":".1f","title":"CVₛ","minExtent":12,"maxExtent":12,"labelFlush":2}},
   "color":{"field":"l","type":"nominal","title":"l"}
  },
  "layer":[
   {"mark":{"type":"line","strokeWidth":1,"opacity":0.85},"encoding":{"strokeDash":{"field":"l","type":"nominal","legend":null}}},
   {"mark":{"type":"point","filled":true,"size":5,"opacity":0.9}}
  ]},
 {"width":173,"height":120,"title":{"text":"E"},"data":{"name":"curves"},
  "encoding":{
   "x":{"field":"rl","type":"quantitative","scale":{"type":"log","domain":[0.0048,52000]},"axis":{"values":[0.1,10,1000],"labelExpr":"'10' + replace(replace(replace(replace(replace(replace(format(log(datum.value)/LN10,'.0f'),'-','⁻'),'0','⁰'),'1','¹'),'2','²'),'3','³'),'4','⁴')","title":"rl"}},
   "y":{"field":"bs","type":"quantitative","scale":{"type":"log","domain":[0.97,28.1]},"axis":{"values":[1,10],"labelExpr":"'10' + replace(replace(replace(replace(replace(replace(format(log(datum.value)/LN10,'.0f'),'-','⁻'),'0','⁰'),'1','¹'),'2','²'),'3','³'),'4','⁴')","title":"βₛ","minExtent":18,"maxExtent":18}},
   "color":{"field":"l","type":"nominal","title":"l"}
  },
  "layer":[
   {"mark":{"type":"line","strokeWidth":1,"opacity":0.85},"encoding":{"strokeDash":{"field":"l","type":"nominal","legend":null}}},
   {"mark":{"type":"point","filled":true,"size":5,"opacity":0.9}}
  ]},
 {"width":174,"height":120,"title":{"text":"F"},"data":{"name":"curves"},
  "encoding":{
   "x":{"field":"rl","type":"quantitative","scale":{"type":"log","domain":[0.0048,52000]},"axis":{"values":[0.1,10,1000],"labelExpr":"'10' + replace(replace(replace(replace(replace(replace(format(log(datum.value)/LN10,'.0f'),'-','⁻'),'0','⁰'),'1','¹'),'2','²'),'3','³'),'4','⁴')","title":"rl"}},
   "y":{"field":"as","type":"quantitative","scale":{"domain":[1.83,5.27],"nice":false,"zero":false},"axis":{"values":[2,2.5,3,3.5,4,4.5,5],"format":".1f","title":"αₛ","minExtent":19,"maxExtent":19}},
   "color":{"field":"l","type":"nominal","title":"l"}
  },
  "layer":[
   {"mark":{"type":"line","strokeWidth":1,"opacity":0.85},"encoding":{"strokeDash":{"field":"l","type":"nominal","legend":null}}},
   {"mark":{"type":"point","filled":true,"size":5,"opacity":0.9}}
  ]},
 {"width":170,"height":120,"title":{"text":"G"},"data":{"name":"grid"},
  "mark":{"type":"circle","size":26,"opacity":1},
  "encoding":{
   "x":{"field":"l","type":"quantitative","scale":{"type":"log","domain":[6.53,76700]},"axis":{"values":[10,100,1000,10000],"labelExpr":"'10' + replace(replace(replace(replace(replace(replace(format(log(datum.value)/LN10,'.0f'),'-','⁻'),'0','⁰'),'1','¹'),'2','²'),'3','³'),'4','⁴')","title":"l"}},
   "y":{"field":"r","type":"quantitative","scale":{"type":"log","domain":[0.000733,0.682]},"axis":{"values":[0.001,0.01,0.1],"labelExpr":"'10' + replace(replace(replace(replace(replace(replace(format(log(datum.value)/LN10,'.0f'),'-','⁻'),'0','⁰'),'1','¹'),'2','²'),'3','³'),'4','⁴')","title":"r","titleFontStyle":"italic","minExtent":20,"maxExtent":20}},
   "fill":{"field":"c","type":"nominal","scale":{"domain":["p","y","g","k"],"range":["#5b3a94","#f2e346","#15a072","#7f7f7f"]},"legend":null}
  }}
]
}
